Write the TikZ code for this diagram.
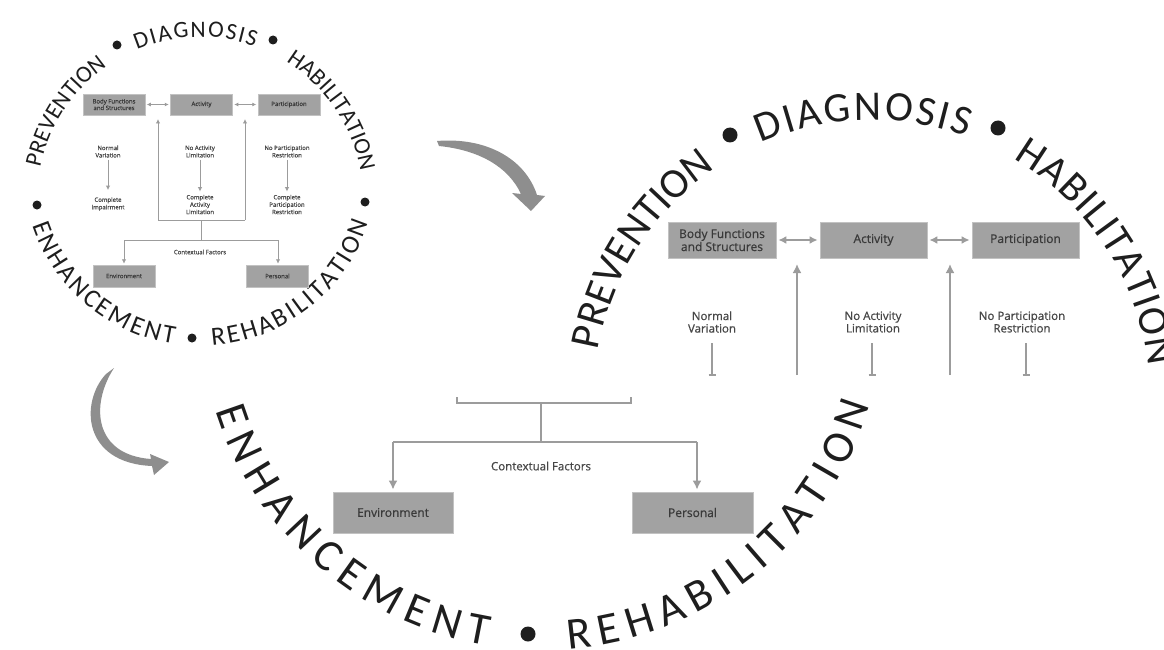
\documentclass[tikz,border=0pt]{standalone}
\usepackage{fontspec}
\setmainfont{Open Sans}
\newfontfamily\arcfont{Carlito}
\newfontfamily\labfont{Open Sans}[FakeBold=0.7]
\usetikzlibrary{decorations.text,arrows.meta}
\definecolor{arcc}{HTML}{1E1E1E}
\definecolor{boxfill}{HTML}{A2A2A2}
\definecolor{boxedge}{HTML}{C2C2C2}
\definecolor{boxtext}{HTML}{3A3A3A}
\definecolor{linec}{HTML}{9C9C9C}
\definecolor{labc}{HTML}{474747}
\definecolor{arrowc}{HTML}{8E8E8E}
\tikzset{
  arcw/.style={decorate, decoration={text along path, text align={fit to path}, text color=arcc}},
  dotn/.style={circle, fill=arcc, inner sep=0pt, minimum size=#1},
  bbox/.style={draw=boxedge, fill=boxfill, line width=0.8pt, inner sep=0pt, text=boxtext, align=center, font=\labfont\fontsize{12}{13}\selectfont},
  sbox/.style={draw=boxedge, fill=boxfill, line width=0.5pt, inner sep=0pt, text=boxtext, align=center, font=\labfont\fontsize{6}{6.6}\selectfont},
  blabel/.style={text=labc, align=center, inner sep=2pt, font=\labfont\fontsize{11.5}{12.5}\selectfont},
  slabel/.style={text=labc, align=center, inner sep=1pt, font=\labfont\fontsize{6}{7.4}\selectfont},
  conn/.style={draw=linec, line width=2pt},
  sconn/.style={draw=linec, line width=0.9pt},
  bhead/.style={-{Latex[length=9pt,width=9pt]}},
  bboth/.style={{Latex[length=8pt,width=8pt]}-{Latex[length=8pt,width=8pt]}},
  shead/.style={-{Latex[length=4.5pt,width=4.5pt]}},
  sboth/.style={{Latex[length=4pt,width=4pt]}-{Latex[length=4pt,width=4pt]}},
}
\newcommand{\arcword}[7]{\path[arcw, decoration={text={|\arcfont\fontsize{#6}{#6}\selectfont|#7}}] ([shift={(#4:#3)}]#1,#2) arc[start angle=#4, end angle=#5, radius=#3];}
\begin{document}
\begin{tikzpicture}[x=1pt,y=1pt]
\useasboundingbox (0,0) rectangle (1164,-650);
\fill[white] (0,0) rectangle (1164,-650);
\clip (0,0) rectangle (1164,-650);

% ---------------- small diagram ----------------
\arcword{200}{-200}{163}{168.5}{125}{23.5}{PREVENTION}
\arcword{200}{-200}{163}{112.8}{70.4}{23.5}{DIAGNOSIS}
\arcword{200}{-200}{163}{58.1}{10}{23.5}{HABILITATION}
\arcword{200}{-169}{177}{198.5}{261.5}{26}{ENHANCEMENT}
\arcword{200}{-169}{177}{273.9}{342.3}{26}{REHABILITATION}
\node[dotn=9pt] (sd1) at (117,-45) {};
\node[dotn=9pt] (sd2) at (273,-40) {};
\node[dotn=9pt] (sd3) at (37,-205) {};
\node[dotn=9pt] (sd4) at (365,-202) {};
\node[dotn=9pt] (sd5) at (192,-338) {};

\node[sbox, minimum width=62pt, minimum height=21pt] (Sbody) at (114,-104.5) {Body Functions\\and Structures};
\node[sbox, minimum width=62pt, minimum height=21pt] (Sact) at (201.5,-104.5) {Activity};
\node[sbox, minimum width=62pt, minimum height=21pt] (Spart) at (289,-104.5) {Participation};
\node[sbox, minimum width=62pt, minimum height=22pt] (Senv) at (124,-276) {Environment};
\node[sbox, minimum width=62pt, minimum height=22pt] (Spers) at (277.5,-276) {Personal};

\node[slabel] (Snv) at (108,-151.5) {Normal\\Variation};
\node[slabel] (Sci) at (108,-204) {Complete\\Impairment};
\node[slabel] (Sna) at (200,-151.5) {No Activity\\Limitation};
\node[slabel] (Sca) at (200,-204.5) {Complete\\Activity\\Limitation};
\node[slabel] (Snp) at (287,-151.5) {No Participation\\Restriction};
\node[slabel] (Scp) at (287,-204.5) {Complete\\Participation\\Restriction};
\node[slabel] (Scf) at (200,-252) {Contextual Factors};

\draw[sconn, sboth, shorten <=1.5pt, shorten >=1.5pt] (Sbody) -- (Sact);
\draw[sconn, sboth, shorten <=1.5pt, shorten >=1.5pt] (Sact) -- (Spart);
\draw[sconn, shead, shorten <=1pt, shorten >=6pt] (Snv) -- (Sci);
\draw[sconn, shead, shorten <=1pt, shorten >=2pt] (Sna) -- (Sca);
\draw[sconn, shead, shorten <=1pt, shorten >=2pt] (Snp) -- (Scp);

\coordinate (Su1) at (158,-220);
\coordinate (Su1t) at (158,-119);
\coordinate (Su2) at (245,-220);
\coordinate (Su2t) at (245,-119);
\coordinate (Ss1) at (201,-220);
\coordinate (Ss2) at (201,-240);
\coordinate (Sh1) at (124,-240);
\coordinate (Sh2) at (278,-240);
\draw[sconn, shead] (Su1) -- (Su1t);
\draw[sconn, shead] (Su2) -- (Su2t);
\draw[sconn] (Su1) -- (Su2);
\draw[sconn] (Ss1) -- (Ss2);
\draw[sconn] (Sh1) -- (Sh2);
\draw[sconn, shead, shorten >=1pt] (Sh1) -- (Senv.north);
\draw[sconn, shead, shorten >=1pt] (Sh2) -- (Sh2 |- Spers.north);

% ---------------- curved arrows ----------------
\fill[arrowc] (437,-141) .. controls (485,-137) and (525,-158) .. (537,-195)
  -- (545,-196) -- (531,-211) -- (512,-193) -- (521,-194)
  .. controls (508,-166) and (478,-150) .. (439,-146) -- cycle;
\fill[arrowc] (106,-374) .. controls (80,-402) and (82,-463) .. (152,-466)
  -- (154,-475) -- (169,-462) -- (150,-454) -- (151,-459)
  .. controls (94,-455) and (90,-405) .. (114,-368) -- cycle;

% ---------------- big diagram ----------------
\arcword{872}{-398}{278}{170.1}{124.5}{42}{PREVENTION}
\arcword{872}{-398}{278}{113.6}{70.1}{42}{DIAGNOSIS}
\arcword{872}{-398}{278}{59.4}{6.5}{42}{HABILITATION}
\arcword{542}{-308}{342}{197.4}{260.8}{45}{ENHANCEMENT}
\arcword{542}{-308}{342}{274.4}{343.5}{45}{REHABILITATION}
\node[dotn=15pt] (bd1) at (730,-135) {};
\node[dotn=15pt] (bd2) at (998,-128) {};
\node[dotn=15pt] (bd3) at (528,-634) {};

\node[bbox, minimum width=108pt, minimum height=36pt] (Bbody) at (722,-240) {Body Functions\\and Structures};
\node[bbox, minimum width=107pt, minimum height=36pt] (Bact) at (873.5,-240) {Activity};
\node[bbox, minimum width=107pt, minimum height=36pt] (Bpart) at (1025.5,-240) {Participation};
\node[bbox, minimum width=120pt, minimum height=41pt] (Benv) at (393,-512.5) {Environment};
\node[bbox, minimum width=121pt, minimum height=41pt] (Bpers) at (692.5,-512.5) {Personal};

\node[blabel] (Bnv) at (712,-322) {Normal\\Variation};
\node[blabel] (Bna) at (873,-322) {No Activity\\Limitation};
\node[blabel] (Bnp) at (1022,-322) {No Participation\\Restriction};
\node[blabel] (Bcf) at (541,-466) {Contextual Factors};

\draw[conn, bboth, shorten <=2pt, shorten >=2pt] (Bbody) -- (Bact);
\draw[conn, bboth, shorten <=2pt, shorten >=2pt] (Bact) -- (Bpart);

\coordinate (Bu1) at (797,-375);
\coordinate (Bu1t) at (797,-264);
\coordinate (Bu2) at (950,-375);
\coordinate (Bu2t) at (950,-264);
\draw[conn, bhead] (Bu1) -- (Bu1t);
\draw[conn, bhead] (Bu2) -- (Bu2t);

\coordinate (Bv1a) at (712,-343);
\coordinate (Bv1b) at (712,-375);
\coordinate (Bv2a) at (872,-343);
\coordinate (Bv2b) at (872,-375);
\coordinate (Bv3a) at (1026,-343);
\coordinate (Bv3b) at (1026,-375);
\draw[conn] (Bv1a) -- (Bv1b);
\draw[conn] (Bv2a) -- (Bv2b);
\draw[conn] (Bv3a) -- (Bv3b);
\draw[conn, line width=1.5pt] ([xshift=-3.5pt]Bv1b) -- ([xshift=3.5pt]Bv1b);
\draw[conn, line width=1.5pt] ([xshift=-3.5pt]Bv2b) -- ([xshift=3.5pt]Bv2b);
\draw[conn, line width=1.5pt] ([xshift=-3.5pt]Bv3b) -- ([xshift=3.5pt]Bv3b);

\coordinate (Bk1) at (457,-397);
\coordinate (Bk2) at (457,-403);
\coordinate (Bk3) at (631,-403);
\coordinate (Bk4) at (631,-397);
\coordinate (Bs1) at (541,-403);
\coordinate (Bs2) at (541,-442);
\coordinate (Bh1) at (393,-442);
\coordinate (Bh2) at (697,-442);
\draw[conn] (Bk1) -- (Bk2) -- (Bk3) -- (Bk4);
\draw[conn] (Bs1) -- (Bs2);
\draw[conn] (Bh1) -- (Bh2);
\draw[conn, bhead, shorten >=2pt] (Bh1) -- (Benv.north);
\draw[conn, bhead, shorten >=2pt] (Bh2) -- (Bh2 |- Bpers.north);
\end{tikzpicture}
\end{document}
